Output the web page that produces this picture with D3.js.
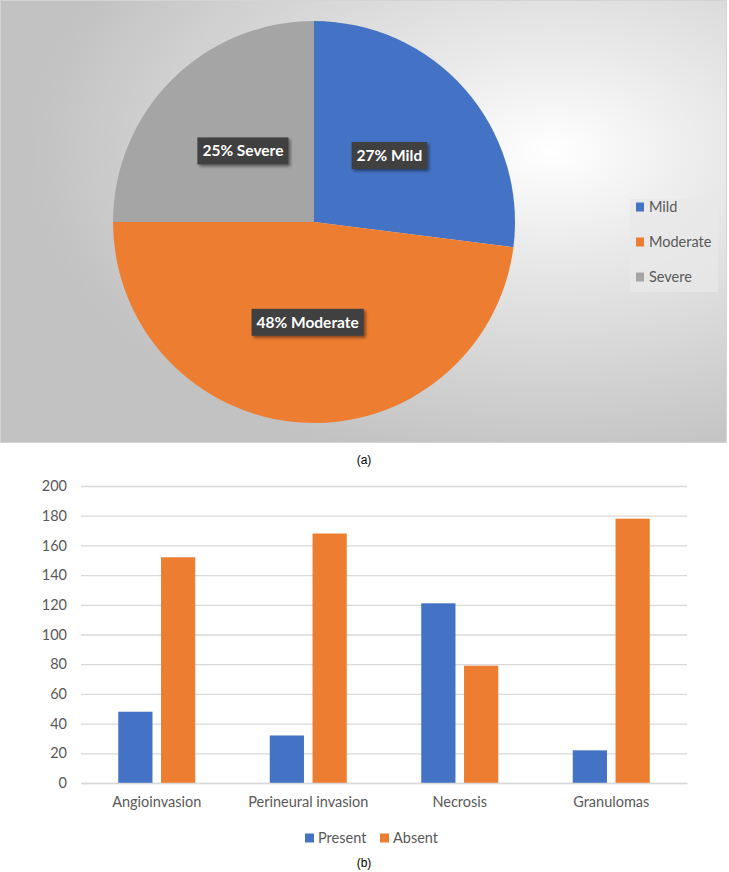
<!DOCTYPE html>
<html>
<head>
<meta charset="utf-8">
<script src="https://cdn.jsdelivr.net/npm/d3@7"></script>
<style>
  body { margin: 0; background: #fff; }
  svg { display: block; }
</style>
</head>
<body>
<svg id="chart"></svg>
<script>
// pie data (a)
const severityLabels = ["Mild", "Moderate", "Severe"];
const severityValues = [27, 48, 25];
const severityColors = ["#4472C4", "#ED7D31", "#A5A5A5"];

// bar data (b)
const findings = ["Angioinvasion", "Perineural invasion", "Necrosis", "Granulomas"];
const seriesNames = ["Present", "Absent"];
const presentValues = [48, 32, 121, 22];
const absentValues = [152, 168, 79, 178];
const yTicks = [0, 20, 40, 60, 80, 100, 120, 140, 160, 180, 200];
const seriesColors = ["#4472C4", "#ED7D31"];

const svgWidth = 729, svgHeight = 872;
const font = "Lato, 'Open Sans', sans-serif";
const textGray = "#595959";

const chart = d3.select('#chart')
    .attr("width", svgWidth)
    .attr("height", svgHeight);

const defs = chart.append("defs");

// panel background
const grad = defs.append("radialGradient")
    .attr("id", "panelBg")
    .attr("cx", "0.76").attr("cy", "0.34").attr("r", "0.72");
grad.append("stop").attr("offset", "0%").attr("stop-color", "#ffffff");
grad.append("stop").attr("offset", "30%").attr("stop-color", "#ebebeb");
grad.append("stop").attr("offset", "100%").attr("stop-color", "#c2c2c2");

const shadow = defs.append("filter").attr("id", "shadow")
    .attr("x", "-20%").attr("y", "-30%").attr("width", "150%").attr("height", "180%");
shadow.append("feDropShadow")
    .attr("dx", 2).attr("dy", 2).attr("stdDeviation", 1.8)
    .attr("flood-color", "#000").attr("flood-opacity", 0.45);

// ---------- (a) pie ----------
chart.append("rect")
    .attr("x", 0.5).attr("y", 0.5)
    .attr("width", 726).attr("height", 442)
    .attr("fill", "url(#panelBg)")
    .attr("stroke", "#d4d4d4");

const pieCenter = {x: 314, y: 222}, radius = 201;

const pie = d3.pie().sort(null).value(d => d.value);
const arc = d3.arc().innerRadius(0).outerRadius(radius);

const pieData = pie(severityLabels.map((l, i) => ({label: l, value: severityValues[i]})));

const pieG = chart.append("g")
    .attr("transform", `translate(${pieCenter.x},${pieCenter.y})`);

pieG.selectAll("path.slice")
    .data(pieData)
    .enter()
    .append("path")
    .attr("class", "slice")
    .attr("d", arc)
    .attr("fill", (d, i) => severityColors[i]);

// data labels: dark boxes at the centroid
const labelG = pieG.selectAll("g.dlabel")
    .data(pieData)
    .enter()
    .append("g")
    .attr("class", "dlabel")
    .attr("transform", d => {
        const c = arc.centroid(d);
        return `translate(${c[0]},${c[1]})`;
    });

labelG.each(function(d) {
    const g = d3.select(this);
    const t = g.append("text")
        .attr("text-anchor", "middle")
        .attr("dy", "0.35em")
        .style("font-family", font)
        .style("font-weight", "bold")
        .style("font-size", "15.5px")
        .attr("fill", "#fff")
        .text(d.data.value + "% " + d.data.label);
    const w = t.node().getComputedTextLength() + 10;
    g.insert("rect", "text")
        .attr("x", -w / 2).attr("y", -13.5)
        .attr("width", w).attr("height", 27)
        .attr("fill", "#404040")
        .attr("filter", "url(#shadow)");
});

// pie legend
const pieLegend = chart.append("g").attr("transform", "translate(630,199)");
pieLegend.append("rect")
    .attr("width", 88).attr("height", 93)
    .attr("fill", "#e8e8e8").attr("opacity", 0.75);

const pieLegendItem = pieLegend.selectAll("g.item")
    .data(severityLabels)
    .enter()
    .append("g")
    .attr("class", "item")
    .attr("transform", (d, i) => `translate(6,${3.5 + i * 35})`);
pieLegendItem.append("rect")
    .attr("width", 8).attr("height", 9)
    .attr("fill", (d, i) => severityColors[i]);
pieLegendItem.append("text")
    .attr("x", 13).attr("y", 4.5).attr("dy", "0.35em")
    .style("font-family", font).style("font-size", "14.5px")
    .attr("fill", textGray)
    .text(d => d);

chart.append("text")
    .attr("x", 364).attr("y", 460).attr("dy", "0.35em")
    .attr("text-anchor", "middle")
    .style("font-family", "'Liberation Sans', Arial, sans-serif")
    .style("font-size", "12px")
    .text("(a)");

// ---------- (b) grouped bars ----------
const xScale = d3.scaleBand().domain(findings).range([81, 687]);
const groupWidth = 77;
const x1 = d3.scaleBand().domain(seriesNames)
    .range([(xScale.bandwidth() - groupWidth) / 2, (xScale.bandwidth() + groupWidth) / 2])
    .paddingInner(0.2);
const yScale = d3.scaleLinear().domain([0, 200]).range([783, 486]);

// gridlines
const yAxis = d3.axisLeft(yScale)
    .tickValues(yTicks)
    .tickSize(-(687 - 81))
    .tickPadding(14);

const yAxisG = chart.append("g")
    .attr("transform", "translate(81,0)")
    .call(yAxis);
yAxisG.select(".domain").remove();
yAxisG.selectAll(".tick line").attr("stroke", "#d9d9d9").attr("stroke-width", 1.3);
yAxisG.selectAll(".tick text")
    .style("font-family", font).style("font-size", "14.5px")
    .attr("fill", textGray);

const rows = findings.map((f, i) => ({name: f, values: [presentValues[i], absentValues[i]]}));

const groups = chart.append("g").selectAll("g.group")
    .data(rows)
    .enter()
    .append("g")
    .attr("class", "group")
    .attr("transform", d => `translate(${xScale(d.name)},0)`);

groups.selectAll("rect")
    .data(d => d.values.map((v, i) => ({series: seriesNames[i], value: v, idx: i})))
    .enter()
    .append("rect")
    .attr("x", d => x1(d.series))
    .attr("width", x1.bandwidth())
    .attr("y", d => yScale(d.value))
    .attr("height", d => yScale(0) - yScale(d.value))
    .attr("fill", d => seriesColors[d.idx]);

// x axis line + labels
const xAxis = d3.axisBottom(xScale).tickSize(0).tickPadding(14);
const xAxisG = chart.append("g")
    .attr("transform", "translate(0,783)")
    .call(xAxis);
xAxisG.select(".domain").attr("stroke", "#d9d9d9").attr("stroke-width", 1.3);
xAxisG.selectAll(".tick text")
    .style("font-family", font).style("font-size", "14.5px")
    .attr("fill", textGray);

// bar legend
const barLegend = chart.append("g").attr("transform", "translate(305,838)");
const barLegendItem = barLegend.selectAll("g.item")
    .data(seriesNames)
    .enter()
    .append("g")
    .attr("class", "item")
    .attr("transform", (d, i) => `translate(${i * 75},0)`);
barLegendItem.append("rect")
    .attr("y", -4.5)
    .attr("width", 9).attr("height", 9)
    .attr("fill", (d, i) => seriesColors[i]);
barLegendItem.append("text")
    .attr("x", 13).attr("dy", "0.35em")
    .style("font-family", font).style("font-size", "14.5px")
    .attr("fill", textGray)
    .text(d => d);

chart.append("text")
    .attr("x", 364).attr("y", 863).attr("dy", "0.35em")
    .attr("text-anchor", "middle")
    .style("font-family", "'Liberation Sans', Arial, sans-serif")
    .style("font-size", "12px")
    .text("(b)");
</script>
</body>
</html>
